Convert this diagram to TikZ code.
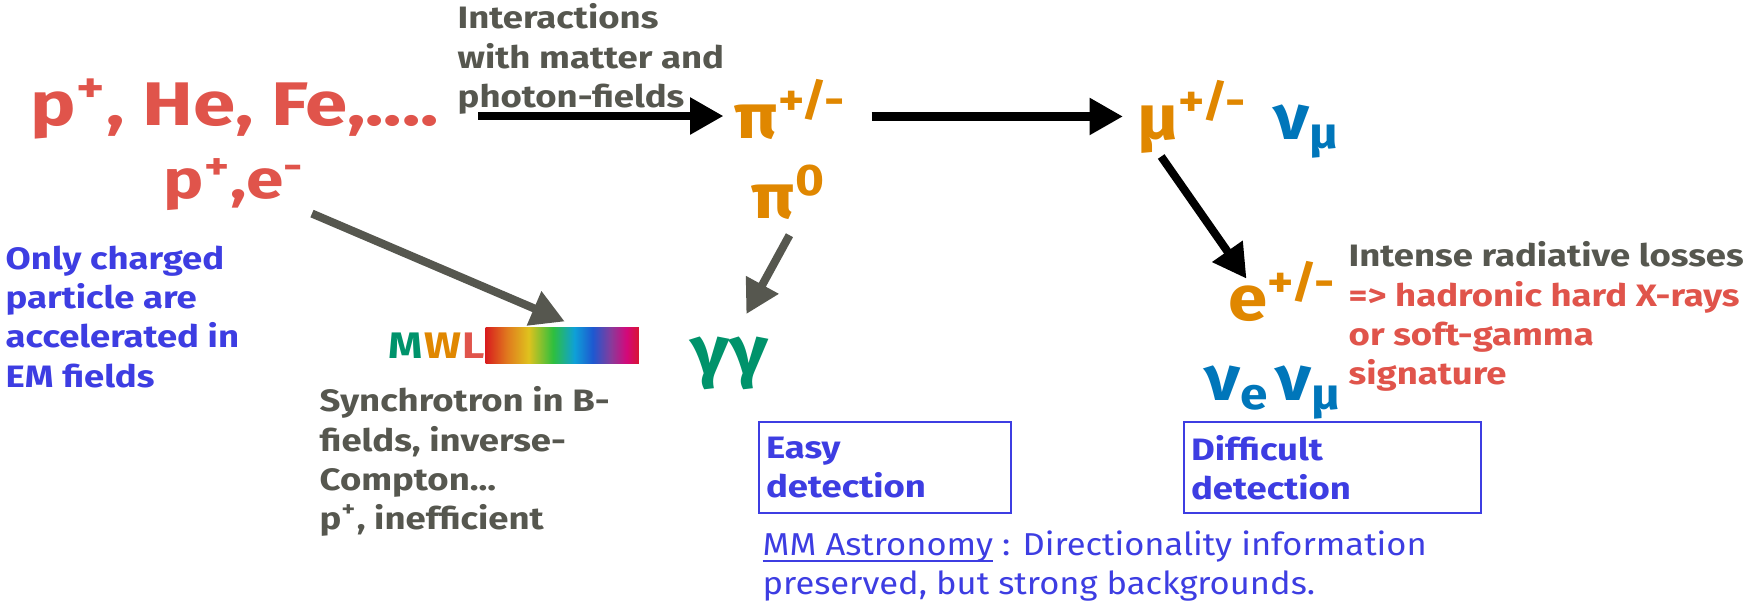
\documentclass[tikz,border=0pt]{standalone}
\usepackage{fontspec}
\setmainfont{Fira Sans}[FakeStretch=1.18]
\newfontfamily\bigfam{Fira Sans}[FakeStretch=1.24]
\newfontfamily\ptclfam{Fira Sans}[FakeStretch=1.12]
\newfontfamily\regfam{Fira Sans}[FakeStretch=1.09]
\usetikzlibrary{arrows.meta,positioning,calc}

\definecolor{pred}{HTML}{E0544B}
\definecolor{pgrey}{HTML}{56574F}
\definecolor{porange}{HTML}{E08700}
\definecolor{pblue}{HTML}{0076BA}
\definecolor{pgreen}{HTML}{00936B}
\definecolor{ptext}{HTML}{3D3DE2}
% spectrum colours
\definecolor{spa}{HTML}{D81E1E}
\definecolor{spb}{HTML}{E07A1E}
\definecolor{spc}{HTML}{DFC21E}
\definecolor{spd}{HTML}{2EBF3E}
\definecolor{spe}{HTML}{0EA0D8}
\definecolor{spf}{HTML}{1E58D0}
\definecolor{spg}{HTML}{8A3A9A}
\definecolor{sph}{HTML}{D4087A}
\definecolor{spi}{HTML}{D81434}
\pgfdeclarehorizontalshading{spectrum}{100bp}{color(0bp)=(spa); color(25bp)=(spa);
  color(32bp)=(spb); color(39bp)=(spc); color(47bp)=(spd); color(54bp)=(spe);
  color(60bp)=(spf); color(66bp)=(spg); color(71bp)=(sph); color(75bp)=(spi); color(100bp)=(spi)}

\newlength\ulw
\newcommand\mmul[1]{\settowidth\ulw{#1}\rlap{\rule[-1.8pt]{\ulw}{0.5pt}}#1}

\begin{document}
\begin{tikzpicture}[x=0.01cm,y=-0.01cm,
   big/.style={font=\bigfam\fontsize{17.5}{20}\selectfont\bfseries,text=pred,inner sep=0pt,anchor=base west},
   ptcl/.style={font=\ptclfam\fontsize{18}{20}\selectfont\bfseries,inner sep=0pt,anchor=base west},
   note/.style={font=\fontsize{8.8}{11.2}\selectfont\bfseries,align=left,anchor=north west,inner sep=0pt},
   detbox/.style={draw=ptext,line width=0.6pt,text=ptext,anchor=north west,
     font=\fontsize{8.8}{11.2}\selectfont\bfseries,align=left,minimum height=0.91cm,inner xsep=0.07cm,inner ysep=0pt},
   arr/.style={-{Triangle[length=9.5pt,width=10pt]},line width=2.3pt}]
  \useasboundingbox (0,0) rectangle (1758,600);
  % sources
  \node[big] (src) at (30,125) {p\textsuperscript{+}, He, Fe,....};
  \node[big,font=\bigfam\fontsize{15.5}{18}\selectfont\bfseries] (pe) at (163,198) {p\textsuperscript{+},e\textsuperscript{-}};
  \node[note,text=pgrey] (inter) at (457,3) {Interactions\\with matter and\\photon-fields};
  \node[note,text=ptext] (onlyc) at (5,245) {Only charged\\particle are\\accelerated in\\EM fields};
  % particles
  \node[ptcl,text=porange] (pic) at (734,138) {π\textsuperscript{+/-}};
  \node[ptcl,text=porange] (mu) at (1137,139) {μ\textsuperscript{+/-}};
  \node[ptcl,text=pblue] (numu) at (1273,139) {ν\textsubscript{μ}};
  \node[ptcl,text=porange] (pi0) at (751,218) {π\textsuperscript{0}};
  \node[ptcl,font=\ptclfam\fontsize{19.5}{20}\selectfont\bfseries,text=pgreen] (gg) at (690,374) {γγ};
  \node[ptcl,text=porange] (epm) at (1228,320) {e\textsuperscript{+/-}};
  \node[ptcl,text=pblue] (nue) at (1204,400) {ν\textsubscript{e}\kern1.5ptν\textsubscript{μ}};
  % multi-wavelength
  \node[inner sep=0pt,anchor=base west,font=\fontsize{10.5}{12}\selectfont\bfseries] (mwl) at (388,358)
    {\textcolor{pgreen}{M}\kern0.4pt\textcolor{porange}{W}\kern0.4pt\textcolor{pred}{L}};
  \node[anchor=north west,inner sep=0pt,minimum width=1.53cm,minimum height=0.36cm,shading=spectrum] (spec) at (485,327) {};
  \node[note,text=pgrey] (sync) at (319,386) {Synchrotron in B-\\fields, inverse-\\Compton...\\p\textsuperscript{+}, inefficient};
  \node[note,text=pgrey] (intense) at (1348,241) {Intense radiative losses\\
    \textcolor{pred}{=> hadronic hard X-rays}\\\textcolor{pred}{or soft-gamma}\\\textcolor{pred}{signature}};
  % detection
  \node[detbox,text width=2.38cm] (easy) at (758,421) {Easy\\detection};
  \node[detbox,text width=2.83cm] (diff) at (1183,421) {Difficult\\detection};
  \node[note,font=\regfam\fontsize{9}{11.2}\selectfont,text=ptext] (mma) at (762,530)
    {\mmul{MM Astronomy} : Directionality information\\preserved, but strong backgrounds.};
  % arrows
  \draw[arr,shorten <=11pt,shorten >=3pt] ([yshift=-2pt]src.east) coordinate (a1) -- (a1 -| pic.west);
  \draw[arr,shorten <=7pt,shorten >=4pt] ([yshift=-2pt]pic.east) coordinate (a2) -- (a2 -| mu.west);
  \draw[arr,pgrey,shorten <=2pt,shorten >=4pt] (pe.south east) -- ($(spec.north west)!.6!(spec.north east)$);
  \draw[arr,pgrey,shorten <=5pt,shorten >=7pt] ($(pi0.south west)!.62!(pi0.south east)$) -- ($(gg.north west)!.56!(gg.north east)$);
  \draw[arr,shorten <=1pt] ($(mu.south west)!.2!(mu.south east)$) -- ([yshift=-5pt]$(epm.north west)!.17!(epm.north east)$);
\end{tikzpicture}
\end{document}
